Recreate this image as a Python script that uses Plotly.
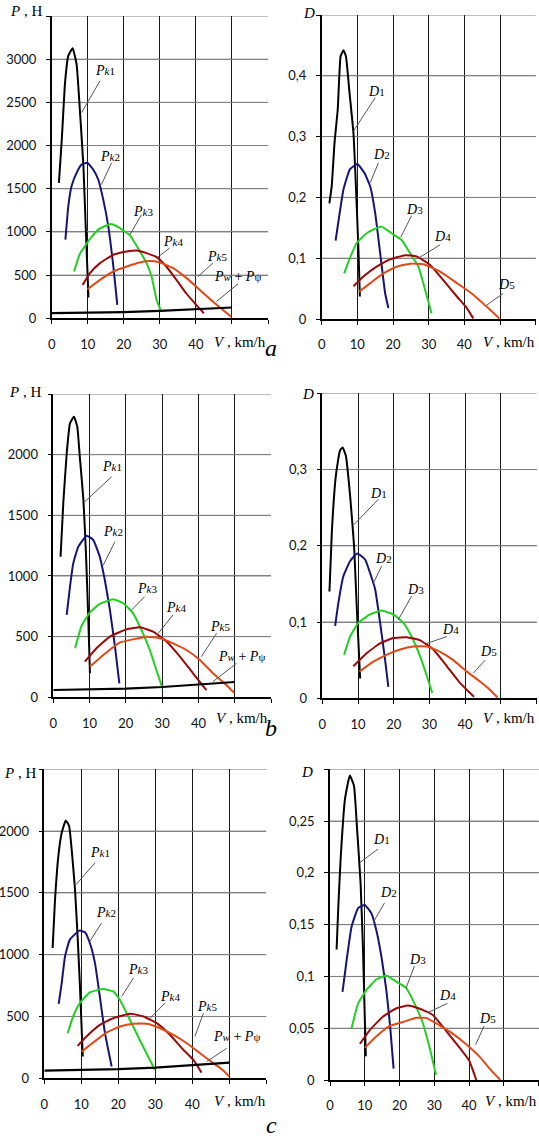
import plotly.graph_objects as go

W, H = 539, 1143
SERIF = "Liberation Serif, Times New Roman, serif"
SANS = "Lato, Open Sans, sans-serif"

# ---------------- data ----------------
# panel a, traction forces P (N)
a_pk1_x = [2.0, 2.8, 3.7, 4.6, 5.8, 6.9, 7.8, 8.8, 9.5, 10.2]
a_pk1_y = [1568, 2071, 2729, 3039, 3128, 2942, 2420, 1761, 987, 240]
a_pk2_x = [3.8, 4.6, 5.5, 6.9, 8.3, 9.9, 11.5, 12.9, 14.3, 15.7, 17.1, 18.2]
a_pk2_y = [910, 1297, 1529, 1684, 1781, 1800, 1723, 1607, 1374, 1065, 600, 155]
a_pk3_x = [6.2, 7.8, 10.6, 13.0, 16.4, 18.9, 21.7, 24.4, 26.3, 27.7, 29.1, 30.2]
a_pk3_y = [542, 745, 918, 1030, 1092, 1045, 960, 780, 639, 484, 213, 97]
a_pk4_x = [8.6, 10.6, 13.4, 17.1, 20.8, 23.5, 26.3, 29.1, 31.8, 34.6, 37.3, 40.1, 42.2]
a_pk4_y = [387, 523, 639, 736, 774, 786, 755, 708, 600, 445, 290, 155, 58]
a_pk5_x = [9.9, 13.4, 17.1, 20.8, 24.4, 27.2, 30.0, 33.7, 37.4, 41.1, 44.7, 47.5, 49.8]
a_pk5_y = [337, 445, 542, 600, 647, 662, 647, 581, 465, 329, 194, 97, 19]
a_pw_x = [0, 10, 20, 30, 40, 50]
a_pw_y = [60, 63, 72, 85, 103, 125]

# panel a, dynamic factor D
a_d1_x = [2.15, 2.8, 3.6, 4.5, 5.3, 6.1, 6.8, 7.8, 8.9, 9.6, 10.3, 10.7]
a_d1_y = [0.190, 0.218, 0.290, 0.345, 0.432, 0.442, 0.432, 0.372, 0.306, 0.218, 0.114, 0.037]
a_d2_x = [3.9, 4.9, 6.1, 7.9, 10.0, 12.0, 13.6, 15.0, 16.4, 17.8, 18.7]
a_d2_y = [0.129, 0.169, 0.213, 0.246, 0.255, 0.240, 0.218, 0.174, 0.108, 0.042, 0.018]
a_d3_x = [6.3, 7.9, 9.8, 12.6, 16.6, 19.6, 22.4, 24.8, 27.1, 29.0, 30.8]
a_d3_y = [0.075, 0.100, 0.125, 0.141, 0.152, 0.141, 0.130, 0.108, 0.086, 0.048, 0.009]
a_d4_x = [8.9, 11.7, 15.4, 19.2, 23.4, 26.6, 30.4, 34.1, 37.9, 40.7, 42.5]
a_d4_y = [0.054, 0.070, 0.086, 0.098, 0.105, 0.103, 0.089, 0.064, 0.037, 0.018, 0.001]
a_d5_x = [10.5, 13.6, 17.3, 21.0, 24.8, 28.5, 33.2, 37.9, 42.5, 46.3, 49.8]
a_d5_y = [0.045, 0.059, 0.075, 0.086, 0.091, 0.090, 0.078, 0.059, 0.040, 0.020, 0.001]

# panel b, traction forces P (N)
b_pk1_x = [2.0, 2.75, 3.7, 4.6, 5.7, 6.6, 7.3, 8.3, 9.0, 9.6, 10.1]
b_pk1_y = [1159, 1599, 2011, 2258, 2313, 2231, 1984, 1626, 1187, 692, 198]
b_pk2_x = [3.7, 4.6, 5.5, 6.9, 9.2, 11.0, 12.8, 14.2, 15.6, 17.0, 18.2]
b_pk2_y = [679, 912, 1104, 1242, 1332, 1297, 1159, 967, 720, 418, 115]
b_pk3_x = [6.0, 7.8, 10.1, 12.8, 16.5, 19.3, 22.0, 24.3, 26.6, 28.4, 30.1]
b_pk3_y = [404, 590, 700, 770, 808, 775, 692, 555, 390, 225, 74]
b_pk4_x = [8.7, 11.9, 15.6, 20.2, 23.9, 27.5, 31.2, 34.9, 38.5, 42.2]
b_pk4_y = [294, 404, 500, 560, 577, 541, 459, 335, 198, 60]
b_pk5_x = [10.1, 13.8, 18.3, 22.0, 25.7, 29.4, 33.0, 36.7, 40.4, 44.0, 47.7, 49.8]
b_pk5_y = [253, 349, 451, 478, 500, 486, 445, 390, 308, 198, 102, 38]
b_pw_x = [0, 10, 20, 30, 40, 50]
b_pw_y = [60, 63, 72, 85, 104, 126]

# panel b, dynamic factor D
b_d1_x = [2.0, 2.7, 3.8, 4.95, 5.7, 6.6, 7.8, 8.9, 9.6, 10.6]
b_d1_y = [0.140, 0.221, 0.292, 0.325, 0.329, 0.318, 0.265, 0.200, 0.125, 0.026]
b_d2_x = [3.6, 4.5, 5.9, 7.8, 9.8, 12.0, 13.4, 14.8, 16.2, 17.6, 18.5]
b_d2_y = [0.095, 0.125, 0.160, 0.180, 0.190, 0.182, 0.164, 0.143, 0.099, 0.050, 0.015]
b_d3_x = [6.1, 7.8, 10.1, 13.4, 16.6, 19.9, 22.7, 25.0, 27.4, 29.3, 30.8]
b_d3_y = [0.057, 0.081, 0.099, 0.110, 0.115, 0.110, 0.099, 0.081, 0.055, 0.029, 0.007]
b_d4_x = [8.7, 12.4, 16.2, 19.9, 23.6, 27.4, 31.1, 34.9, 38.6, 42.5]
b_d4_y = [0.042, 0.059, 0.072, 0.079, 0.080, 0.076, 0.064, 0.042, 0.020, 0.002]
b_d5_x = [10.4, 14.3, 18.0, 21.8, 25.5, 29.3, 33.0, 36.7, 40.5, 44.2, 47.0, 49.1]
b_d5_y = [0.035, 0.048, 0.057, 0.064, 0.068, 0.068, 0.061, 0.050, 0.035, 0.022, 0.011, 0.001]

# panel c, traction forces P (N)
c_pk1_x = [2.25, 2.9, 3.8, 4.7, 5.8, 6.7, 7.4, 8.3, 9.0, 9.6, 10.4]
c_pk1_y = [1054, 1446, 1797, 1986, 2086, 2041, 1851, 1527, 1149, 770, 176]
c_pk2_x = [3.9, 4.7, 5.6, 6.9, 9.5, 11.0, 12.3, 13.7, 15.0, 16.4, 18.2]
c_pk2_y = [603, 770, 986, 1122, 1195, 1181, 1095, 932, 662, 365, 95]
c_pk3_x = [6.3, 7.8, 9.6, 12.3, 15.9, 18.6, 20.4, 22.7, 24.9, 27.6, 29.9]
c_pk3_y = [365, 500, 608, 695, 722, 703, 635, 500, 365, 203, 68]
c_pk4_x = [9.0, 11.4, 15.0, 18.6, 23.2, 26.8, 30.4, 34.0, 37.6, 40.3, 42.5]
c_pk4_y = [262, 338, 432, 486, 522, 500, 446, 351, 230, 149, 46]
c_pk5_x = [10.1, 13.2, 16.8, 20.5, 24.1, 27.7, 31.3, 34.9, 38.5, 42.1, 45.7, 48.2, 50.0]
c_pk5_y = [216, 289, 370, 419, 441, 441, 405, 351, 284, 203, 122, 68, 14]
c_pw_x = [0, 10, 20, 30, 40, 50]
c_pw_y = [62, 65, 74, 87, 105, 127]

# panel c, dynamic factor D
c_d1_x = [1.9, 2.4, 3.1, 4.3, 5.7, 6.9, 7.8, 8.8, 9.5, 10.3]
c_d1_y = [0.126, 0.168, 0.216, 0.271, 0.294, 0.284, 0.242, 0.190, 0.126, 0.023]
c_d2_x = [3.6, 4.8, 6.2, 8.1, 10.0, 11.9, 13.3, 14.8, 16.2, 17.3, 18.3]
c_d2_y = [0.085, 0.116, 0.148, 0.166, 0.169, 0.161, 0.145, 0.119, 0.087, 0.052, 0.011]
c_d3_x = [6.2, 8.1, 10.5, 13.3, 16.2, 19.5, 21.9, 24.3, 26.7, 28.6, 30.5]
c_d3_y = [0.050, 0.074, 0.087, 0.097, 0.101, 0.094, 0.089, 0.074, 0.055, 0.032, 0.005]
c_d4_x = [8.6, 11.4, 15.2, 19.0, 22.4, 25.7, 29.5, 33.3, 37.1, 40.0, 42.1]
c_d4_y = [0.035, 0.048, 0.061, 0.069, 0.072, 0.069, 0.063, 0.048, 0.032, 0.019, 0.000]
c_d5_x = [10.0, 13.3, 17.1, 21.0, 24.8, 27.6, 31.4, 35.2, 39.0, 42.9, 46.2, 49.0]
c_d5_y = [0.031, 0.042, 0.052, 0.056, 0.060, 0.060, 0.053, 0.045, 0.035, 0.023, 0.010, 0.000]

# tick labels
x_ticks = [0, 10, 20, 30, 40, 50, 60]
x_ticktext = ["0", "10", "20", "30", "40", "", ""]
a_p_ticks = [0, 500, 1000, 1500, 2000, 2500, 3000, 3500]
a_p_ticktext = ["0", "500", "1000", "1500", "2000", "2500", "3000", ""]
a_d_ticks = [0, 0.1, 0.2, 0.3, 0.4, 0.5]
a_d_ticktext = ["0", "0,1", "0,2", "0,3", "0,4", ""]
b_p_ticks = [0, 500, 1000, 1500, 2000, 2500]
b_p_ticktext = ["0", "500", "1000", "1500", "2000", ""]
b_d_ticks = [0, 0.1, 0.2, 0.3, 0.4]
b_d_ticktext = ["0", "0,1", "0,2", "0,3", ""]
c_p_ticks = [0, 500, 1000, 1500, 2000, 2500]
c_p_ticktext = ["0", "500", "1000", "1500", "2000", ""]
c_d_ticks = [0, 0.05, 0.1, 0.15, 0.2, 0.25, 0.3]
c_d_ticktext = ["0", "0,05", "0,1", "0,15", "0,2", "0,25", ""]

# curve labels
SM = "<span style='font-size:11px'>"
p_names = [f"<i>P</i>{SM}<i>k</i>1</span>", f"<i>P</i>{SM}<i>k</i>2</span>", f"<i>P</i>{SM}<i>k</i>3</span>",
           f"<i>P</i>{SM}<i>k</i>4</span>", f"<i>P</i>{SM}<i>k</i>5</span>",
           f"<i>P</i>{SM}<i>w</i></span> + <i>P</i>{SM}ψ</span>"]
d_names = [f"<i>D</i>{SM}1</span>", f"<i>D</i>{SM}2</span>", f"<i>D</i>{SM}3</span>",
           f"<i>D</i>{SM}4</span>", f"<i>D</i>{SM}5</span>"]

# ---------------- styling ----------------
colors = ["#000000", "#141478", "#22d022", "#9a0a0a", "#e04a18", "#000000"]


def px(x):
    return x / W


def py(y):
    return 1 - y / H


panels = [
    dict(xd=[51.7, 268.0], yd=[318.3, 16.0], yr=[0, 3500], yt=a_p_ticks, ytt=a_p_ticktext),
    dict(xd=[321.7, 535.7], yd=[319.0, 15.0], yr=[0, 0.5], yt=a_d_ticks, ytt=a_d_ticktext),
    dict(xd=[53.3, 271.0], yd=[697.3, 394.0], yr=[0, 2500], yt=b_p_ticks, ytt=b_p_ticktext),
    dict(xd=[322.3, 536.5], yd=[698.3, 393.3], yr=[0, 0.4], yt=b_d_ticks, ytt=b_d_ticktext),
    dict(xd=[44.3, 266.3], yd=[1078.3, 769.3], yr=[0, 2500], yt=c_p_ticks, ytt=c_p_ticktext),
    dict(xd=[330.0, 538.5], yd=[1080.0, 769.3], yr=[0, 0.3], yt=c_d_ticks, ytt=c_d_ticktext),
]

series = [
    [(a_pk1_x, a_pk1_y), (a_pk2_x, a_pk2_y), (a_pk3_x, a_pk3_y), (a_pk4_x, a_pk4_y), (a_pk5_x, a_pk5_y), (a_pw_x, a_pw_y)],
    [(a_d1_x, a_d1_y), (a_d2_x, a_d2_y), (a_d3_x, a_d3_y), (a_d4_x, a_d4_y), (a_d5_x, a_d5_y)],
    [(b_pk1_x, b_pk1_y), (b_pk2_x, b_pk2_y), (b_pk3_x, b_pk3_y), (b_pk4_x, b_pk4_y), (b_pk5_x, b_pk5_y), (b_pw_x, b_pw_y)],
    [(b_d1_x, b_d1_y), (b_d2_x, b_d2_y), (b_d3_x, b_d3_y), (b_d4_x, b_d4_y), (b_d5_x, b_d5_y)],
    [(c_pk1_x, c_pk1_y), (c_pk2_x, c_pk2_y), (c_pk3_x, c_pk3_y), (c_pk4_x, c_pk4_y), (c_pk5_x, c_pk5_y), (c_pw_x, c_pw_y)],
    [(c_d1_x, c_d1_y), (c_d2_x, c_d2_y), (c_d3_x, c_d3_y), (c_d4_x, c_d4_y), (c_d5_x, c_d5_y)],
]

# label placements per panel: (text x, text y, leader start x, y, leader end x, y)
label_pos = [
    [(14.8, 2865, 13.4, 2749, 8.3, 2381), (16.1, 1878, 16.6, 1800, 13.8, 1549),
     (25.4, 1239, 24.9, 1200, 21.7, 968), (33.7, 890, 32.7, 813, 29.1, 697),
     (45.9, 716, 44.7, 639, 40.6, 484), (51.5, 484, 51.7, 400, 45.7, 194)],
    [(15.4, 0.375, 15.0, 0.364, 8.9, 0.309), (16.8, 0.270, 15.9, 0.257, 13.6, 0.224),
     (25.9, 0.180, 25.2, 0.170, 22.2, 0.135), (33.9, 0.135, 33.2, 0.122, 27.1, 0.100),
     (51.9, 0.056, 50.9, 0.042, 46.3, 0.023)],
    [(16.1, 1901, 16.1, 1819, 8.7, 1613), (16.5, 1365, 17.0, 1283, 13.8, 1091),
     (25.7, 898, 25.2, 830, 21.6, 720), (33.9, 742, 33.0, 679, 28.9, 527),
     (45.9, 582, 45.0, 527, 40.8, 335), (52.0, 335, 50.5, 280, 44.0, 129)],
    [(15.7, 0.268, 15.7, 0.261, 8.9, 0.228), (17.1, 0.183, 16.6, 0.173, 14.3, 0.151),
     (26.0, 0.143, 25.0, 0.134, 21.3, 0.103), (35.8, 0.090, 34.9, 0.081, 29.3, 0.072),
     (46.5, 0.061, 45.6, 0.050, 42.3, 0.033)],
    [(15.0, 1824, 13.7, 1743, 8.6, 1568), (16.8, 1338, 15.5, 1257, 12.3, 1108),
     (25.4, 878, 24.1, 811, 20.9, 662), (34.0, 662, 32.6, 608, 28.6, 486),
     (43.9, 581, 43.0, 527, 40.7, 338), (52.0, 338, 49.3, 243, 43.9, 135)],
    [(14.8, 0.232, 13.8, 0.223, 8.6, 0.210), (16.7, 0.181, 15.7, 0.171, 12.4, 0.152),
     (25.2, 0.116, 24.3, 0.110, 21.9, 0.089), (33.8, 0.082, 33.8, 0.074, 28.1, 0.065),
     (45.2, 0.059, 44.3, 0.052, 41.9, 0.034)],
]

fig = go.Figure()
layout_axes = {}
annotations = []
shapes = []

for i, p in enumerate(panels):
    n = i + 1
    xa = "x" if n == 1 else f"x{n}"
    ya = "y" if n == 1 else f"y{n}"
    xkey = "xaxis" if n == 1 else f"xaxis{n}"
    ykey = "yaxis" if n == 1 else f"yaxis{n}"
    is_p = (i % 2 == 0)
    names = p_names if is_p else d_names
    # horizontal grid lines at the y tick values
    for tv in p["yt"][1:]:
        shapes.append(dict(type="line", xref=f"{xa} domain", yref=ya, x0=0, x1=1, y0=tv, y1=tv,
                           line=dict(color="#808080", width=1), layer="below"))
    for j, (xs, ys) in enumerate(series[i]):
        fig.add_trace(go.Scatter(x=xs, y=ys, mode="lines", xaxis=xa, yaxis=ya,
                                 line=dict(color=colors[j], width=2 if j < 5 else 2.2,
                                           shape="spline" if j < 5 else "linear",
                                           smoothing=0.4 if j < 5 else 0),
                                 showlegend=False, hoverinfo="skip"))
    layout_axes[xkey] = dict(domain=[px(p["xd"][0]), px(p["xd"][1])], range=[0, 60],
                             tickmode="array", tickvals=x_ticks, ticktext=x_ticktext,
                             showline=True, linecolor="#000000", linewidth=1.5,
                             ticks="outside", ticklen=4, tickcolor="#000000",
                             showgrid=True, gridcolor="#1a1a1a", gridwidth=1, zeroline=False,
                             automargin=False, fixedrange=True,
                             tickfont=dict(family=SANS, size=13, color="#111111"),
                             anchor=ya, ticklabelstandoff=9)
    layout_axes[ykey] = dict(domain=[py(p["yd"][0]), py(p["yd"][1])], range=p["yr"],
                             tickmode="array", tickvals=p["yt"], ticktext=p["ytt"],
                             showline=True, linecolor="#000000", linewidth=1.5,
                             ticks="outside", ticklen=4, tickcolor="#000000",
                             showgrid=True, gridcolor="#808080", gridwidth=1, zeroline=False,
                             automargin=False, fixedrange=True,
                             tickfont=dict(family=SANS, size=13, color="#111111"),
                             anchor=xa, ticklabelstandoff=7)
    for j, (tx, ty, sx, sy, ex, ey) in enumerate(label_pos[i]):
        shapes.append(dict(type="line", xref=xa, yref=ya, x0=sx, y0=sy, x1=ex, y1=ey,
                           line=dict(color="#555555", width=1)))
        annotations.append(dict(xref=xa, yref=ya, x=tx, y=ty, text=names[j], showarrow=False,
                                font=dict(family=SERIF, size=14, color="#000000"),
                                xanchor="center", yanchor="middle"))

# axis titles (pixel positions)
p_title_pos = [(26, 11), (25, 392), (20, 773)]
d_title_pos = [(309, 13), (308, 394), (307, 772)]
v_title_pos = [(240, 342), (509, 342), (242, 718), (509, 718), (240, 1101), (511, 1101)]
for (x, y) in p_title_pos:
    annotations.append(dict(xref="paper", yref="paper", x=px(x), y=py(y), text="<i>P</i> , H",
                            showarrow=False, font=dict(family=SERIF, size=15, color="#000000"),
                            xanchor="center", yanchor="middle"))
for (x, y) in d_title_pos:
    annotations.append(dict(xref="paper", yref="paper", x=px(x), y=py(y), text="<i>D</i>",
                            showarrow=False, font=dict(family=SERIF, size=15, color="#000000"),
                            xanchor="center", yanchor="middle"))
for (x, y) in v_title_pos:
    annotations.append(dict(xref="paper", yref="paper", x=px(x), y=py(y), text="<i>V</i> , km/h",
                            showarrow=False, font=dict(family=SERIF, size=15, color="#000000"),
                            xanchor="center", yanchor="middle"))
for (t, x, y) in [("a", 271, 348), ("b", 271, 728), ("c", 271, 1125)]:
    annotations.append(dict(xref="paper", yref="paper", x=px(x), y=py(y), text=f"<i>{t}</i>",
                            showarrow=False, font=dict(family=SERIF, size=24, color="#000000"),
                            xanchor="center", yanchor="middle"))

fig.update_layout(width=W, height=H, margin=dict(l=0, r=0, t=0, b=0),
                  paper_bgcolor="#ffffff", plot_bgcolor="#ffffff",
                  font=dict(family=SERIF),
                  annotations=annotations, shapes=shapes, **layout_axes)

fig.write_html("out.html", config={"displayModeBar": False},
               post_script="document.body.style.margin='0';document.body.style.overflow='hidden';")
